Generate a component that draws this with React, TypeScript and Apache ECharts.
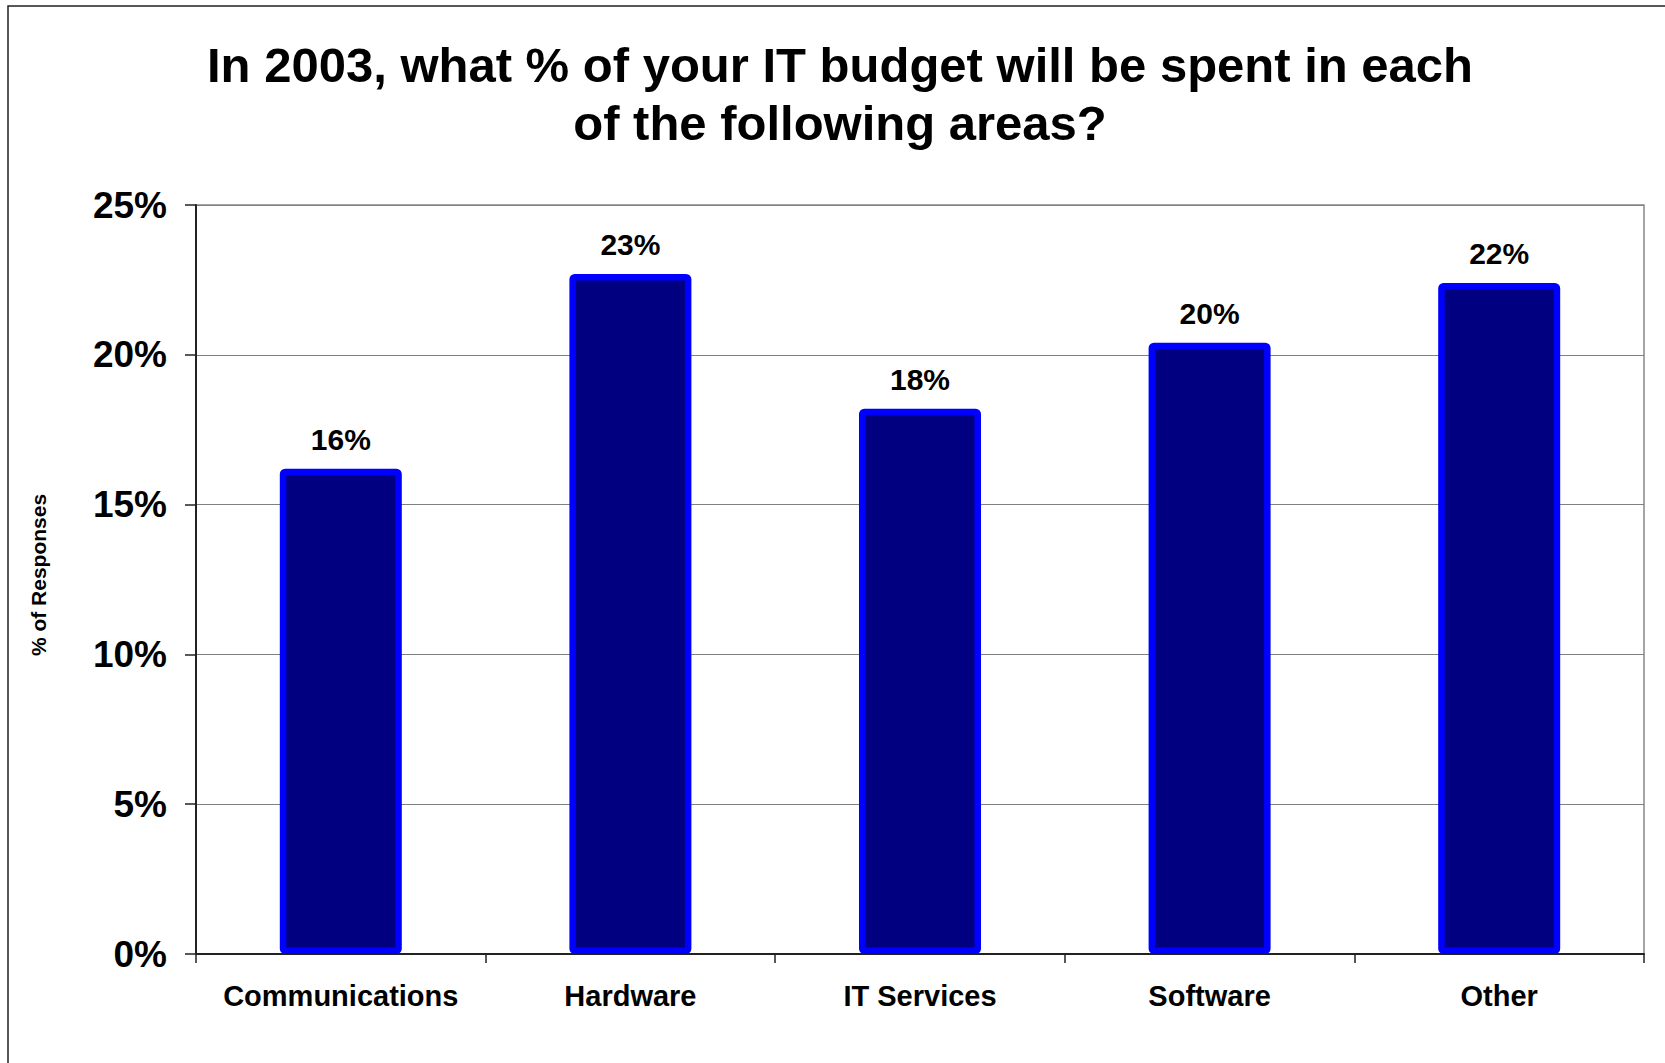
import React, { useEffect, useRef } from "react";
import * as echarts from "echarts";

const categories = ["Communications", "Hardware", "IT Services", "Software", "Other"];
const values = [16.2, 22.7, 18.2, 20.4, 22.4];
const yTicks = [0, 5, 10, 15, 20, 25];
const titleText = "In 2003, what % of your IT budget will be spent in each\nof the following areas?";
const yName = "% of Responses";

const FONT = '"Liberation Sans", Arial, sans-serif';

export default function App() {
  const ref = useRef<HTMLDivElement>(null);
  useEffect(() => {
    if (!ref.current) return;
    const chart = echarts.init(ref.current, undefined, { renderer: "svg" });
    chart.setOption({
      animation: false,
      backgroundColor: "#ffffff",
      title: {
        text: titleText,
        left: 835,
        top: 31,
        textAlign: "center",
        textStyle: {
          fontFamily: FONT,
          fontSize: 49,
          fontWeight: "bold",
          color: "#000",
          lineHeight: 58,
        },
      },
      graphic: [
        {
          type: "rect",
          shape: { x: 8, y: 6, width: 1720, height: 1120 },
          style: { fill: "none", stroke: "#222", lineWidth: 1.5 },
          silent: true,
        },
        {
          type: "text",
          x: 38,
          y: 575,
          rotation: Math.PI / 2,
          style: {
            text: yName,
            fontFamily: FONT,
            fontSize: 21,
            fontWeight: "bold",
            fill: "#000",
            align: "center",
            verticalAlign: "middle",
          },
        },
      ],
      grid: {
        left: 196,
        right: 21,
        top: 205,
        bottom: 109,
        show: true,
        borderColor: "#888",
        borderWidth: 1.5,
        backgroundColor: "#fff",
      },
      xAxis: {
        type: "category",
        data: categories,
        boundaryGap: true,
        axisLine: { show: true, lineStyle: { color: "#222", width: 2 } },
        axisTick: {
          show: true,
          interval: 0,
          length: 9,
          inside: false,
          lineStyle: { color: "#222", width: 1.5 },
        },
        axisLabel: {
          interval: 0,
          hideOverlap: false,
          margin: 27,
          fontFamily: FONT,
          fontSize: 29,
          fontWeight: "bold",
          color: "#000",
          lineHeight: 29,
        },
        splitLine: { show: false },
      },
      yAxis: {
        type: "value",
        min: yTicks[0],
        max: yTicks[yTicks.length - 1],
        interval: 5,
        axisLine: { show: true, lineStyle: { color: "#222", width: 2 } },
        axisTick: { show: true, length: 11, lineStyle: { color: "#222", width: 1.5 } },
        axisLabel: {
          margin: 29,
          fontFamily: FONT,
          fontSize: 37,
          fontWeight: "bold",
          color: "#000",
          formatter: (v: number) => `${v}%`,
        },
        splitLine: { show: true, lineStyle: { color: "#808080", width: 1.2 } },
      },
      series: [
        {
          type: "bar",
          data: values,
          barWidth: 122,
          itemStyle: {
            color: "#000080",
            borderColor: "#0000FF",
            borderWidth: 6.5,
            borderRadius: 2,
          },
          label: {
            show: true,
            position: "top",
            distance: 14,
            fontFamily: FONT,
            fontSize: 30,
            fontWeight: "bold",
            color: "#000",
            formatter: (p: any) => `${Math.round(p.value)}%`,
          },
        },
      ],
    });
    return () => chart.dispose();
  }, []);
  return (
    <div
      ref={ref}
      style={{ position: "absolute", left: 0, top: 0, width: 1665, height: 1063 }}
    />
  );
}
